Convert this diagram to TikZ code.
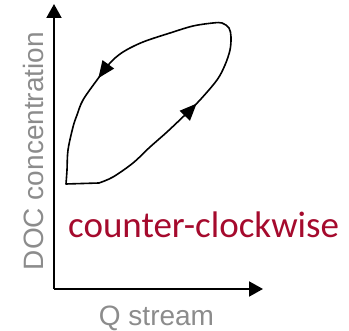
\documentclass[tikz,border=0pt]{standalone}
\usepackage{fontspec}
\setmainfont{Liberation Sans}
\newfontfamily\calib{Carlito}
\usetikzlibrary{arrows.meta,decorations.markings}
\definecolor{axgray}{HTML}{8C8C8C}
\definecolor{ccred}{HTML}{A50A2D}
\begin{document}
\begin{tikzpicture}[x=1pt,y=-1pt,
  axis/.style={line width=2pt,-{Triangle[length=14pt,width=15pt]}},
  loopline/.style={line width=1.6pt,line join=round,
    postaction={decorate,decoration={markings,
      mark=at position 0.295 with {\arrow{Triangle[length=17pt,width=14pt]}},
      mark=at position 0.73 with {\arrow{Triangle[length=17pt,width=14pt]}}}}},
  axlabel/.style={text=axgray,font=\fontsize{28}{30}\selectfont,inner sep=0pt},
  cclabel/.style={text=ccred,font=\calib\fontsize{37}{40}\selectfont,inner sep=0pt}]
\useasboundingbox (0,0) rectangle (349,331);
\coordinate (origin) at (54,289);
\coordinate (ytip) at (54,4);
\coordinate (xtip) at (263,289);
\draw[axis] (origin) -- (ytip);
\draw[axis] (origin) -- (xtip);
\coordinate (start) at (66,184);
\draw[loopline] (start) -- (99,183)
  plot[smooth,tension=0.55] coordinates {(99,183) (113,177) (133,163) (150,147) (167,132) (187,113) (200,100) (217,80) (225,65) (230,50) (231,37) (229,28) (222,23) (213,23) (193,26) (170,33) (143,42) (123,52) (110,63) (97,80) (83,100) (77,115) (73,127) (68,150) (67,170) (66,184)} -- cycle;
\node[axlabel,rotate=90,anchor=base] (ylab) at (43,151) {DOC concentration};
\node[axlabel,anchor=base] (xlab) at (156.5,326) {Q stream};
\node[cclabel,anchor=base west] (cc) at (68,238) {counter-clockwise};
\end{tikzpicture}
\end{document}
